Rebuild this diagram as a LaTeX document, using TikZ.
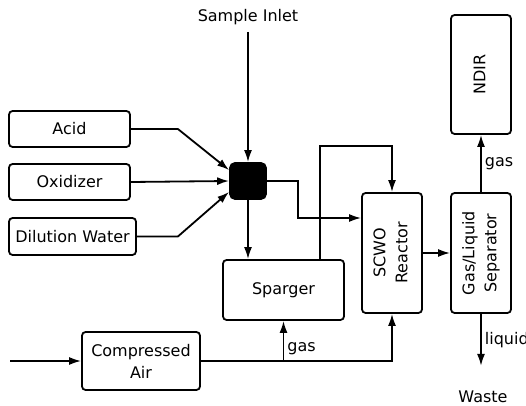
\documentclass[tikz,border=0pt]{standalone}
\usepackage{fontspec}
\setmainfont{DejaVu Sans}
\usepackage{graphicx}
\usetikzlibrary{arrows.meta, positioning}
\newcommand{\vlabel}[1]{\rotatebox{90}{\begin{tabular}{@{}c@{}}#1\end{tabular}}}

\begin{document}
\begin{tikzpicture}[
      x=0.5pt, y=-0.5pt,
      font=\fontsize{8}{11}\selectfont,
      box/.style={rectangle, draw, rounded corners=1.8pt, line width=0.9pt, align=center, inner sep=1pt},
      arrow/.style={-{Latex[length=6pt, width=4pt]}, line width=0.9pt},
      tag/.style={inner sep=1.5pt, font=\fontsize{8}{11}\selectfont}
    ]
      \useasboundingbox (0,0) rectangle (526,406);

      % Feeds on the left
      \node[box, minimum width=60.5pt, minimum height=18pt] (acid) at (69.5,129) {Acid};
      \node[box, minimum width=60.5pt, minimum height=18pt] (oxid) at (69.5,182) {Oxidizer};
      \node[box, minimum width=63.5pt, minimum height=18.5pt] (dilution) at (72.5,236.5) {Dilution Water};

      % Mixing point and sample inlet
      \node (inlet) at (248,17) {Sample Inlet};
      \node[box, fill=black, rounded corners=2.5pt, minimum size=18pt] (mixer) at (248,181) {};

      % Middle and right column
      \node[box, minimum width=60.5pt, minimum height=30pt] (sparger) at (283.5,290) {Sparger};
      \node[box, minimum width=30pt, minimum height=60pt] (reactor) at (392,253) {\vlabel{SCWO\\Reactor}};
      \node[box, minimum width=30pt, minimum height=60pt] (separator) at (481,253) {\vlabel{Gas/Liquid\\Separator}};
      \node[box, minimum width=30pt, minimum height=59.5pt] (ndir) at (481,74.5) {\vlabel{NDIR}};
      \node (waste) at (483,397) {Waste};

      % Air supply
      \node[box, minimum width=59pt, minimum height=29pt] (air) at (141,361) {Compressed\\Air};
      \coordinate (airin) at (10,361);

      % Arrows into the mixer
      \draw[arrow] (inlet.south) -- (mixer.north);
      \draw[arrow] (acid.east) -- ++(47,0) -- (mixer.150);
      \draw[arrow] (oxid.east) -- (mixer.west);
      \draw[arrow] (dilution.east) -- ++(41,0) -- (mixer.210);

      % Mixer to sparger and reactor
      \draw[arrow] (mixer.south) -- (mixer.south |- sparger.north);
      \draw[arrow] (mixer.east) -- ++(31,0) |- ([yshift=17.5pt]reactor.west);
      \draw[arrow] ([xshift=18.25pt]sparger.north) -- ++(0,-113) -| (reactor.north);

      % Reactor to separator and outputs
      \draw[arrow] (reactor.east) -- (separator.west);
      \draw[arrow] (separator.north) -- (ndir.south) node[midway, right, tag] {gas};
      \draw[arrow] (separator.south) -- ++(0,52) node[midway, right, tag] {liquid};

      % Compressed air lines
      \draw[arrow] (airin) -- (air.west);
      \draw[arrow] (air.east) -| (reactor.south);
      \draw[arrow] (air.east -| sparger.south) -- (sparger.south) node[pos=0.3, right, tag] {gas};

    \end{tikzpicture}
\end{document}
